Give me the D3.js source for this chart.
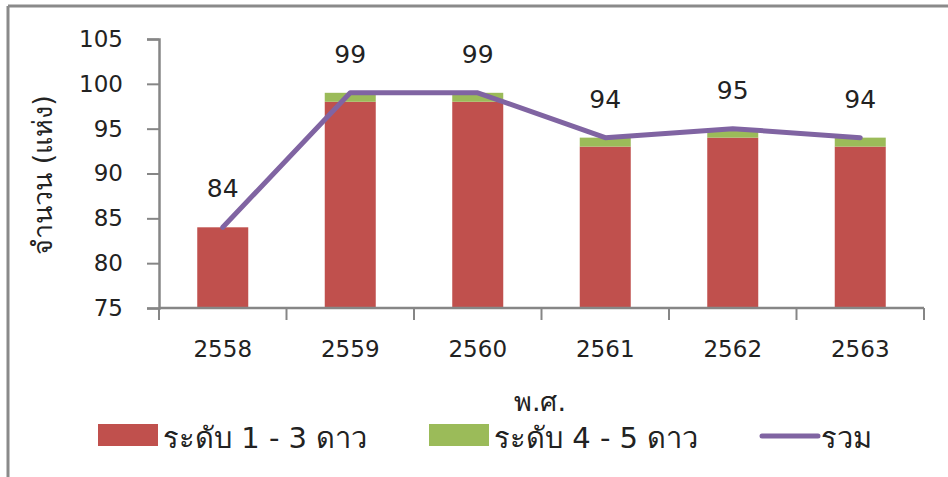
<!DOCTYPE html>
<html lang="th">
<head>
  <meta charset="utf-8" />
  <title>จำนวน (แห่ง)</title>
  <script src="https://d3js.org/d3.v7.min.js"></script>
  <style>
    html, body { margin: 0; padding: 0; background: #fff; overflow: hidden; }
    svg text { font-family: "DejaVu Sans", "Noto Sans", sans-serif; fill: #222; }
  </style>
</head>
<body>
<script>
// data
const years = ["2558", "2559", "2560", "2561", "2562", "2563"];
const level13 = [84, 98, 98, 93, 94, 93];   // ระดับ 1 - 3 ดาว
const level45 = [0, 1, 1, 1, 1, 1];         // ระดับ 4 - 5 ดาว
const total = [84, 99, 99, 94, 95, 94];     // รวม
const yTicks = [75, 80, 85, 90, 95, 100, 105];

const W = 948, H = 477;
const red = "#C0504D", green = "#9BBB59", purple = "#8064A2", axisGray = "#868686";

const svg = d3.select("body").append("svg")
  .attr("width", W).attr("height", H);

// outer frame (top + left only visible)
svg.append("line").attr("x1", 8).attr("x2", W).attr("y1", 6).attr("y2", 6)
  .attr("stroke", "#8a8a8a").attr("stroke-width", 3);
svg.append("line").attr("x1", 8).attr("x2", 8).attr("y1", 6).attr("y2", H)
  .attr("stroke", "#8a8a8a").attr("stroke-width", 3);

const x = d3.scaleBand().domain(years).range([159, 924]).paddingInner(0.6).paddingOuter(0.3);
const y = d3.scaleLinear().domain([75, 105]).range([308, 39]);
const xc = d => x(d) + x.bandwidth() / 2;

// bars
const rows = years.map((yr, i) => ({ yr, a: level13[i], b: level45[i], t: total[i] }));
const g = svg.append("g");
g.selectAll("rect.lo").data(rows).enter().append("rect")
  .attr("x", d => x(d.yr)).attr("width", x.bandwidth())
  .attr("y", d => y(d.a)).attr("height", d => y(75) - y(d.a))
  .attr("fill", red);
g.selectAll("rect.hi").data(rows.filter(d => d.b > 0)).enter().append("rect")
  .attr("x", d => x(d.yr)).attr("width", x.bandwidth())
  .attr("y", d => y(d.a + d.b)).attr("height", d => y(d.a) - y(d.a + d.b))
  .attr("fill", green);

// axes
const yAxis = svg.append("g").attr("transform", "translate(159,0)")
  .call(d3.axisLeft(y).tickValues(yTicks).tickSize(12).tickPadding(24));
yAxis.selectAll("text").style("font-size", "23px").attr("fill", "#222");

const xAxis = svg.append("g").attr("transform", "translate(0,308)")
  .call(d3.axisBottom(x).tickSize(0).tickPadding(33));
xAxis.selectAll("text").style("font-size", "23px").attr("fill", "#222");
// tick marks between categories
xAxis.selectAll("line.sep").data(d3.range(7)).enter().append("line")
  .attr("x1", i => 159 + i * x.step()).attr("x2", i => 159 + i * x.step())
  .attr("y1", 0).attr("y2", 12).attr("stroke", axisGray).attr("stroke-width", 2);

svg.selectAll(".domain").attr("stroke", axisGray).attr("stroke-width", 2.5);
svg.selectAll(".tick line").attr("stroke", axisGray).attr("stroke-width", 2);
xAxis.select(".domain").attr("d", "M159,0H924");

// total line
const line = d3.line().x(d => xc(d.yr)).y(d => y(d.t));
svg.append("path").datum(rows).attr("d", line)
  .attr("fill", "none").attr("stroke", purple).attr("stroke-width", 5)
  .attr("stroke-linejoin", "round").attr("stroke-linecap", "round");

// data labels
svg.selectAll("text.lab").data(rows).enter().append("text")
  .attr("x", d => xc(d.yr)).attr("y", d => y(d.t) - 30)
  .attr("text-anchor", "middle").style("font-size", "25px").text(d => d.t);

// axis titles
svg.append("text").attr("transform", "translate(52,175) rotate(-90)")
  .attr("text-anchor", "middle").style("font-size", "27px").text("จำนวน (แห่ง)");
svg.append("text").attr("x", 540).attr("y", 411)
  .attr("text-anchor", "middle").style("font-size", "27px").text("พ.ศ.");

// legend
const leg = svg.append("g");
leg.append("rect").attr("x", 98).attr("y", 424).attr("width", 60).attr("height", 22).attr("fill", red);
leg.append("text").attr("x", 163).attr("y", 448).style("font-size", "29px").text("ระดับ 1 - 3 ดาว");
leg.append("rect").attr("x", 429).attr("y", 424).attr("width", 60).attr("height", 22).attr("fill", green);
leg.append("text").attr("x", 494).attr("y", 448).style("font-size", "29px").text("ระดับ 4 - 5 ดาว");
leg.append("line").attr("x1", 762).attr("x2", 818).attr("y1", 436).attr("y2", 436)
  .attr("stroke", purple).attr("stroke-width", 5).attr("stroke-linecap", "round");
leg.append("text").attr("x", 821).attr("y", 448).style("font-size", "29px").text("รวม");
</script>
</body>
</html>
